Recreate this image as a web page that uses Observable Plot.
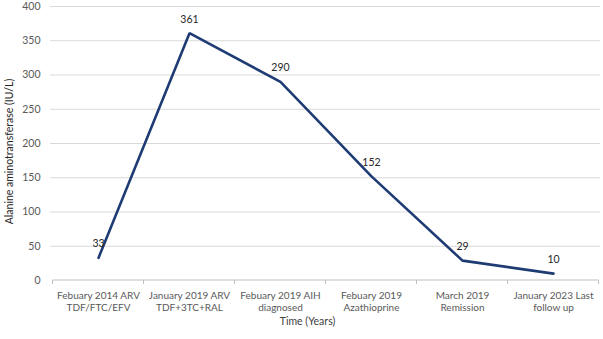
<!DOCTYPE html>
<html>
<head>
<meta charset="utf-8">
<script src="https://cdn.jsdelivr.net/npm/d3@7"></script>
<script src="https://cdn.jsdelivr.net/npm/@observablehq/plot@0.6"></script>
<style>
  html, body { margin: 0; padding: 0; background: #fff; }
  svg { display: block; overflow: visible; }
</style>
</head>
<body>
<div id="chart"></div>
<script>
const categories = [
  "Febuary 2014 ARV\nTDF/FTC/EFV",
  "January 2019 ARV\nTDF+3TC+RAL",
  "Febuary 2019 AIH\ndiagnosed",
  "Febuary 2019\nAzathioprine",
  "March 2019\nRemission",
  "January 2023 Last\nfollow up"
];
const altValues = [33, 361, 290, 152, 29, 10];
const yTicks = [0, 50, 100, 150, 200, 250, 300, 350, 400];
const yLabel = "Alanine aminotransferase (IU/L)";
const xLabel = "Time (Years)";

const data = categories.map((c, i) => ({cat: c, v: altValues[i]}));
const font = "Lato, 'Open Sans', sans-serif";
const textColor = "#595959";

// band-boundary ticks on the category axis, computed from the x scale
function boundaryTicks(index, scales, values, dimensions) {
  const x = scales.x;
  const pos = categories.map(c => x(c));
  const step = pos.length > 1 ? pos[1] - pos[0] : 0;
  const bounds = pos.map(p => p - step / 2).concat([pos[pos.length - 1] + step / 2]);
  const y0 = scales.y(0);
  const g = d3.create("svg:g");
  g.append("line")
    .attr("x1", bounds[0]).attr("x2", bounds[bounds.length - 1])
    .attr("y1", y0).attr("y2", y0)
    .attr("stroke", "#bfbfbf").attr("stroke-width", 1);
  g.selectAll("line.t").data(bounds).join("line")
    .attr("class", "t")
    .attr("x1", d => d).attr("x2", d => d)
    .attr("y1", y0).attr("y2", y0 + 4)
    .attr("stroke", "#bfbfbf").attr("stroke-width", 1);
  return g.node();
}

const chart = Plot.plot({
  width: 603,
  height: 339,
  marginLeft: 50,
  marginRight: 3,
  marginTop: 6,
  marginBottom: 59,
  style: {fontFamily: font, fontSize: "10px", color: textColor, background: "#fff", overflow: "visible"},
  x: {type: "point", domain: categories, padding: 0.5, label: null},
  y: {domain: [0, 400], ticks: yTicks, label: null},
  marks: [
    Plot.gridY(yTicks.filter(t => t > 0), {stroke: "#d9d9d9", strokeOpacity: 1, strokeWidth: 1}),
    Plot.axisY({ticks: yTicks, tickSize: 0, tickPadding: 10, label: null, fontSize: 10.5, fill: textColor}),
    Plot.axisX({tickSize: 0, tickPadding: 10, label: null, fontSize: 10, fill: textColor, lineHeight: 1.2}),
    boundaryTicks,
    Plot.line(data, {x: "cat", y: "v", stroke: "#1f3b73", strokeWidth: 2.6, strokeLinejoin: "miter"}),
    Plot.text(data, {x: "cat", y: "v", text: d => String(d.v), dy: -14, fill: "#262626", fontSize: 10.5}),
    Plot.text([yLabel], {frameAnchor: "left", textAnchor: "middle", rotate: -90, dx: -41, dy: 8, fill: "#262626", fontSize: 10.5}),
    Plot.text([xLabel], {frameAnchor: "bottom", textAnchor: "middle", dy: 44, dx: -18, fill: "#404040", fontSize: 10.5})
  ]
});
document.getElementById("chart").appendChild(chart);
</script>
</body>
</html>
